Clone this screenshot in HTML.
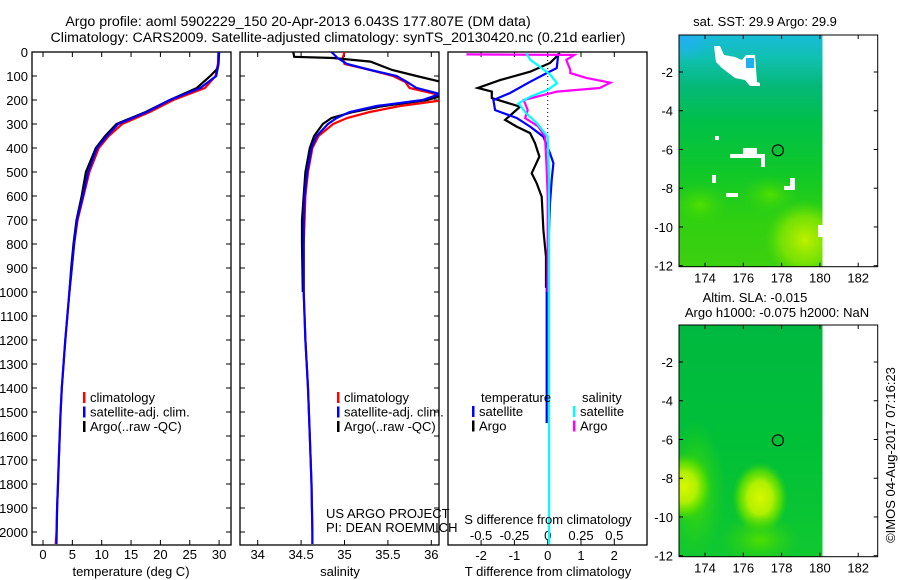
<!DOCTYPE html>
<html><head><meta charset="utf-8">
<style>
html,body{margin:0;padding:0;background:#fff;}
svg{display:block;font-family:"Liberation Sans",sans-serif;}
text{font-size:13px;fill:#000;}
</style></head>
<body>
<svg id="chart" width="900" height="580" viewBox="0 0 900 580" xmlns="http://www.w3.org/2000/svg">
<defs>
  <clipPath id="c1"><rect x="32" y="52" width="199" height="493"/></clipPath>
  <clipPath id="c2"><rect x="240" y="52" width="199" height="493"/></clipPath>
  <clipPath id="c3"><rect x="448" y="52" width="199" height="493"/></clipPath>
  <clipPath id="cm1"><rect x="679" y="35" width="143.5" height="231.5"/></clipPath>
  <clipPath id="cm2"><rect x="679" y="325" width="143.5" height="231.5"/></clipPath>
  <linearGradient id="sstg" x1="0" y1="0" x2="0" y2="1">
    <stop offset="0" stop-color="#18bcd8"/><stop offset="0.1" stop-color="#10c0b0"/>
    <stop offset="0.22" stop-color="#05b878"/><stop offset="0.38" stop-color="#00c048"/>
    <stop offset="0.6" stop-color="#10c828"/><stop offset="0.8" stop-color="#30d010"/>
    <stop offset="1" stop-color="#3cd010"/>
  </linearGradient>
  <radialGradient id="yel1"><stop offset="0" stop-color="#c0f000"/><stop offset="0.6" stop-color="#90e800" stop-opacity="0.7"/><stop offset="1" stop-color="#60e000" stop-opacity="0"/></radialGradient>
  <radialGradient id="cyan1"><stop offset="0" stop-color="#20b0f0"/><stop offset="1" stop-color="#20b0f0" stop-opacity="0"/></radialGradient>
  <linearGradient id="slag" x1="0" y1="0" x2="0" y2="1">
    <stop offset="0" stop-color="#00b840"/><stop offset="0.5" stop-color="#00c038"/><stop offset="1" stop-color="#10c830"/>
  </linearGradient>
  <radialGradient id="blob"><stop offset="0" stop-color="#d8f800"/><stop offset="0.45" stop-color="#b0f000"/><stop offset="0.75" stop-color="#60e000" stop-opacity="0.8"/><stop offset="1" stop-color="#30d010" stop-opacity="0"/></radialGradient>
  <radialGradient id="halo"><stop offset="0" stop-color="#50e000"/><stop offset="1" stop-color="#30d010" stop-opacity="0"/></radialGradient>
</defs>
<g id="root"></g>
</svg>
<script>
// ---------- data ----------
const depthT = [0,50,100,150,200,250,300,350,400,500,600,700,800,900,1000,1200,1400,1500,1600,1700,1800,1900,2000,2050];
const climT  = [29.9,29.8,29.4,27.6,22.2,18.2,13.5,11.2,9.5,7.9,6.9,5.9,5.3,4.9,4.5,3.8,3.2,3.0,2.85,2.7,2.55,2.4,2.3,2.16];
const satT   = [29.9,29.9,29.5,26.8,21.6,17.7,12.8,10.9,9.2,7.7,6.8,5.8,5.3,4.9,4.5,3.8,3.2,3.0,2.85,2.7,2.55,2.4,2.33,2.3];
const depthArgoT = [0,50,70,100,150,200,250,300,350,400,500,600,700,800,900,1000];
const argoT  = [30.0,29.9,29.7,28.5,26.2,21.6,17.5,12.5,10.6,9.0,7.3,6.6,5.7,5.2,4.8,4.5];

const depthS = [0,25,50,75,100,125,150,175,200,225,250,275,300,350,400,500,600,700,800,1000,1200,1400,1600,1800,2000,2050];
const climS  = [35.0,34.98,35.0,35.3,35.56,35.7,35.75,36.05,36.15,35.64,35.29,35.03,34.87,34.70,34.63,34.58,34.55,34.54,34.53,34.53,34.55,34.58,34.60,34.62,34.63,34.63];
const satS   = [34.85,34.92,35.03,35.3,35.6,35.72,35.83,36.1,35.9,35.37,35.06,34.91,34.81,34.68,34.62,34.57,34.54,34.53,34.53,34.53,34.55,34.58,34.60,34.62,34.63,34.63];
const depthArgoS = [0,20,25,40,75,100,125,150,175,200,225,250,275,300,350,400,500,600,700,800,1000];
const argoS  = [34.41,34.42,34.87,35.3,35.55,35.83,36.12,36.3,36.2,35.95,35.45,35.1,34.85,34.75,34.65,34.6,34.55,34.53,34.51,34.51,34.52];

const depthDT = [5,46,82,117,150,165,192,228,283,311,338,380,436,505,547,603,742,853,983];
const argoDT  = [0.37,0.07,-0.53,-1.43,-2.1,-1.68,-1.68,-0.83,-1.28,-0.93,-0.53,-0.38,-0.25,-0.48,-0.33,-0.18,-0.13,-0.05,-0.05];
const depthSatDT = [5,67,88,124,171,200,242,275,311,353,422,463,533,630,811,1000,1546];
const satDT  = [0.32,0.27,-0.03,-0.53,-1.13,-1.63,-1.58,-0.93,-0.53,-0.13,0.07,0.17,0.12,0.07,0.02,-0.03,-0.03];
const depthDS = [10,12,33,75,88,108,128,150,165,200,242,275,311,353,463,603,1000];
const argoDS  = [-0.61,0.2,0.14,0.17,0.17,0.29,0.47,0.39,0.07,-0.18,-0.15,-0.17,-0.07,-0.02,-0.01,0,0];
const depthSatDS = [5,33,61,95,130,158,186,214,256,297,353,500,2050];
const satDS  = [-0.16,-0.13,-0.06,0.02,0.07,0,-0.13,-0.22,-0.16,-0.08,0,0.01,0.01];

const depthTicks = [0,100,200,300,400,500,600,700,800,900,1000,1100,1200,1300,1400,1500,1600,1700,1800,1900,2000];
const tempTicks = [0,5,10,15,20,25,30];
const salTicks = [34,34.5,35,35.5,36];
const salTickLabels = ["34","34.5","35","35.5","36"];
const dTTicks = [-2,-1,0,1,2];
const dSTicks = [-0.5,-0.25,0,0.25,0.5];
const dSTickLabels = ["-0.5","-0.25","0","0.25","0.5"];
const lonTicks = [174,176,178,180,182];
const latTicks = [-2,-4,-6,-8,-10,-12];
const argoLon = 177.807, argoLat = -6.043;

// ---------- scales ----------
const yD = d => 52 + d*0.24;
const xT = t => 43 + t*5.87;
const xS = s => 257.7 + (s-34)*86.8;
const xDT = v => 547.7 + v*33.3;
const xDS = v => 547.7 + v*133.2;
const xLon = l => 705 + (l-174)*19.15;
const yLat1 = la => 72 + (-2-la)*19.37;
const yLat2 = la => 362 + (-2-la)*19.37;

const NS="http://www.w3.org/2000/svg";
const root=document.getElementById('root');
function el(tag,attrs,parent){const e=document.createElementNS(NS,tag);for(const k in attrs)e.setAttribute(k,attrs[k]);(parent||root).appendChild(e);return e;}
function txt(x,y,s,anchor,parent){const t=el('text',{x:x,y:y,'text-anchor':anchor||'start'},parent);t.textContent=s;return t;}

function line(xs,ds,xf,color,clip,name,w){
  const pts=xs.map((v,i)=>xf(v).toFixed(1)+','+yD(ds[i]).toFixed(1)).join(' ');
  const p=el('polyline',{points:pts,fill:'none',stroke:color,'stroke-width':w||2.2,'clip-path':'url(#'+clip+')'});
  
  
}
function frame(x,y,w,h,name){
  const r=el('rect',{x:x,y:y,width:w,height:h,fill:'none',stroke:'#000','stroke-width':1.3});
  
  
}
function yTicks(x0,x1,labels){
  depthTicks.forEach(d=>{
    const y=yD(d);
    el('line',{x1:x0,y1:y,x2:x0+5,y2:y,stroke:'#000'});
    el('line',{x1:x1-5,y1:y,x2:x1,y2:y,stroke:'#000'});
    if(labels){const t=txt(28,y+5,String(d),'end');
      
      }
  });
}
function xTicks(vals,xf,labels,ly){
  vals.forEach((v,i)=>{
    const x=xf(v);
    el('line',{x1:x,y1:52,x2:x,y2:57,stroke:'#000'});
    el('line',{x1:x,y1:540,x2:x,y2:545,stroke:'#000'});
    if(labels){const t=txt(x,ly,labels[i],'middle');
      
      }
  });
}

// ---------- titles ----------
let t=txt(298,26,'Argo profile: aoml 5902229_150 20-Apr-2013 6.043S 177.807E (DM data)','middle');
t.setAttribute('style','font-size:14.2px');


t=txt(338,42,'Climatology: CARS2009. Satellite-adjusted climatology: synTS_20130420.nc (0.21d earlier)','middle');
t.setAttribute('style','font-size:14.2px');



// ---------- panel 1 temperature ----------
frame(32,52,199,493,'temperature-panel');
yTicks(32,231,true);
xTicks(tempTicks,xT,tempTicks.map(String),559);
line(climT,depthT,xT,'#ff0000','c1','climatology-temp-line');
line(argoT,depthArgoT,xT,'#000000','c1','argo-temp-line');
line(satT,depthT,xT,'#0000ff','c1','satellite-temp-line');
t=txt(131,576,'temperature (deg C)','middle');



function legend(x,y,items){
  items.forEach((it,i)=>{
    const yy=y+i*14.5;
    const m=el('rect',{x:x,y:yy-10,width:2.5,height:11,fill:it[1]});
    
    
    const tt=txt(x+7,yy,it[0]);
    
    
  });
}
legend(83,402,[['climatology','#ff0000'],['satellite-adj. clim.','#0000ff'],['Argo(..raw -QC)','#000']]);

// ---------- panel 2 salinity ----------
frame(240,52,199,493,'salinity-panel');
yTicks(240,439,false);
xTicks(salTicks,xS,salTickLabels,559);
line(climS,depthS,xS,'#ff0000','c2','climatology-salinity-line');
line(argoS,depthArgoS,xS,'#000000','c2','argo-salinity-line');
line(satS,depthS,xS,'#0000ff','c2','satellite-salinity-line');
t=txt(340,576,'salinity','middle');


legend(337,402,[['climatology','#ff0000'],['satellite-adj. clim.','#0000ff'],['Argo(..raw -QC)','#000']]);
t=txt(326,518,'US ARGO PROJECT');


t=txt(326,532,'PI: DEAN ROEMMICH');



// ---------- panel 3 differences ----------
frame(448,52,199,493,'difference-panel');
dTTicks.forEach(v=>{const x=xDT(v);el('line',{x1:x,y1:52,x2:x,y2:57,stroke:'#000'});el('line',{x1:x,y1:540,x2:x,y2:545,stroke:'#000'});
  const tt=txt(x,560,String(v),'middle');
  
  });
dSTicks.forEach((v,i)=>{const tt=txt(xDS(v),540,dSTickLabels[i],'middle');
  
  });
el('line',{x1:547.7,y1:52,x2:547.7,y2:yD(420),stroke:'#000','stroke-dasharray':'1,3'});
line(argoDT,depthDT,xDT,'#000000','c3','argo-t-diff-line');
line(satDT,depthSatDT,xDT,'#0000ff','c3','satellite-t-diff-line');
line(argoDS,depthDS,xDS,'#ff00ff','c3','argo-s-diff-line');
line(satDS,depthSatDS,xDS,'#00ffff','c3','satellite-s-diff-line');
t=txt(548,524,'S difference from climatology','middle');


t=txt(548,576,'T difference from climatology','middle');


t=txt(481,402,'temperature');


t=txt(582,402,'salinity');


legend(472,416,[['satellite','#0000ff'],['Argo','#000']]);
legend(573,416,[['satellite','#00ffff'],['Argo','#ff00ff']]);

// ---------- maps ----------
function mapAxes(yLat,top,bottom,name){
  const r=el('rect',{x:679,y:top,width:198.7,height:bottom-top,fill:'none',stroke:'#000','stroke-width':1});
  
  
  lonTicks.forEach(l=>{const x=xLon(l);
    el('line',{x1:x,y1:top,x2:x,y2:top+4,stroke:'#000'});el('line',{x1:x,y1:bottom-4,x2:x,y2:bottom,stroke:'#000'});
    const tt=txt(x,bottom+16,String(l),'middle');
    
    });
  latTicks.forEach(la=>{const y=yLat(la);
    el('line',{x1:679,y1:y,x2:683,y2:y,stroke:'#000'});el('line',{x1:873.7,y1:y,x2:877.7,y2:y,stroke:'#000'});
    const tt=txt(673,y+5,String(la),'end');
    
    });
  const c=el('circle',{cx:xLon(argoLon),cy:yLat(argoLat),r:5.5,fill:'none',stroke:'#000','stroke-width':1.2});
  
  
}
// SST map
const g1=el('g',{'clip-path':'url(#cm1)'});


el('rect',{x:679,y:35,width:144,height:232,fill:'url(#sstg)'},g1);
el('ellipse',{cx:685,cy:40,rx:30,ry:22,fill:'url(#cyan1)'},g1);
el('ellipse',{cx:805,cy:240,rx:40,ry:40,fill:'url(#yel1)'},g1);
el('ellipse',{cx:700,cy:205,rx:30,ry:22,fill:'url(#halo)'},g1);
el('ellipse',{cx:770,cy:195,rx:30,ry:20,fill:'url(#halo)'},g1);
const wfill='#ffffff';
el('polygon',{points:'714,46 720,46 724,55 735,57 742,60 746,55 755,55 757,82 760,83 760,86 750,86 745,80 735,78 722,68 716,62',fill:wfill},g1);
el('rect',{x:746,y:58,width:8,height:10,fill:'#20b0f0'},g1);
el('rect',{x:730,y:154,width:32,height:4,fill:wfill},g1);
el('rect',{x:743,y:148,width:14,height:8,fill:wfill},g1);
el('rect',{x:761,y:154,width:4,height:13,fill:wfill},g1);
el('rect',{x:715,y:136,width:4,height:4,fill:wfill},g1);
el('rect',{x:712,y:175,width:4,height:8,fill:wfill},g1);
el('rect',{x:726,y:193,width:12,height:4,fill:wfill},g1);
el('rect',{x:790,y:178,width:5,height:12,fill:wfill},g1);
el('rect',{x:784,y:186,width:10,height:4,fill:wfill},g1);
el('rect',{x:818,y:225,width:5,height:12,fill:wfill},g1);
mapAxes(yLat1,35,266.7,'sst-map-frame');
t=txt(765,26,'sat. SST: 29.9 Argo: 29.9','middle');



// SLA map
const g2=el('g',{'clip-path':'url(#cm2)'});


el('rect',{x:679,y:325,width:144,height:232,fill:'url(#slag)'},g2);
el('ellipse',{cx:695,cy:490,rx:30,ry:70,fill:'url(#halo)'},g2);
el('ellipse',{cx:684,cy:487,rx:28,ry:34,fill:'url(#blob)'},g2);
el('ellipse',{cx:760,cy:498,rx:28,ry:36,fill:'url(#blob)'},g2);
el('ellipse',{cx:760,cy:540,rx:40,ry:25,fill:'url(#halo)'},g2);
mapAxes(yLat2,325,556.7,'sla-map-frame');
t=txt(755,302,'Altim. SLA: -0.015','middle');


t=txt(777,317,'Argo h1000: -0.075 h2000: NaN','middle');


t=txt(0,0,'©IMOS 04-Aug-2017 07:16:23','middle');
t.setAttribute('transform','translate(895,455) rotate(-90)');


</script>
</body></html>
